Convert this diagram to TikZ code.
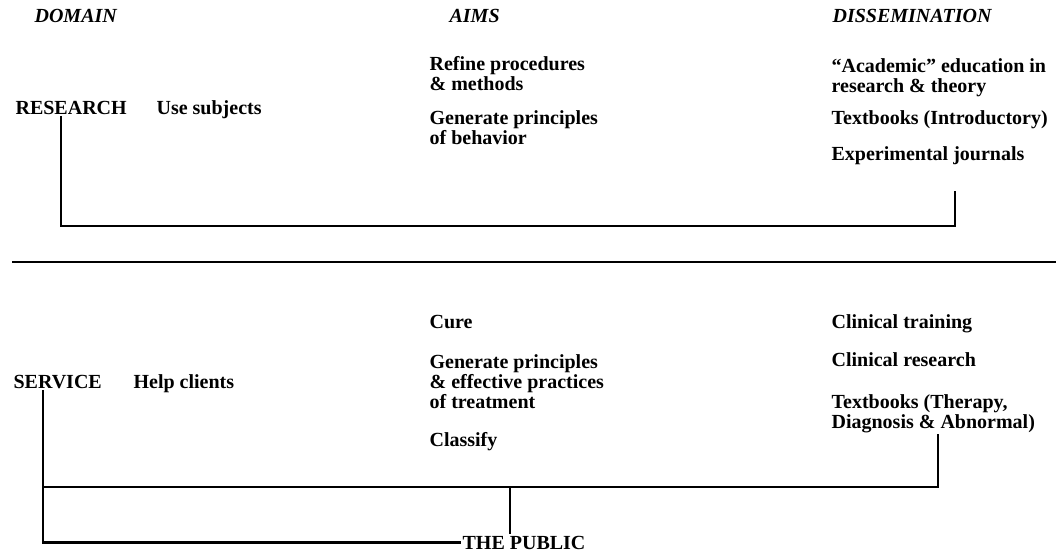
\documentclass[tikz,border=0pt]{standalone}
\usepackage{fontspec}
\setmainfont{Liberation Serif}
\usetikzlibrary{positioning}

\begin{document}
\begin{tikzpicture}[x=0.75pt,y=-0.75pt]
\tikzset{
  entry/.style={anchor=base west,inner sep=1pt,align=left,
    font=\fontsize{15pt}{15pt}\selectfont\bfseries},
  heading/.style={entry,font=\fontsize{15pt}{15pt}\selectfont\bfseries\itshape},
  bracket/.style={line width=1.6pt,line join=miter}
}
\useasboundingbox (0,0) rectangle (1056,553);
\node[heading] (n_domain) at (33,22) {DOMAIN};
\node[heading] (n_aims) at (448,22) {AIMS};
\node[heading] (n_dissem) at (831,22) {DISSEMINATION};
\node[entry] (n_research) at (14,114) {RESEARCH};
\node[entry] (n_usesubj) at (155,114) {Use subjects};
\node[entry] (n_refine) at (428,90) {Refine procedures\\\& methods};
\node[entry] (n_genbeh) at (428,144) {Generate principles\\of behavior};
\node[entry] (n_academic) at (830,92) {``Academic'' education in\\research \& theory};
\node[entry] (n_textintro) at (830,124) {Textbooks (Introductory)};
\node[entry] (n_journals) at (830,160) {Experimental journals};
\node[entry] (n_service) at (12,388) {SERVICE};
\node[entry] (n_help) at (132,388) {Help clients};
\node[entry] (n_cure) at (428,328) {Cure};
\node[entry] (n_gentreat) at (428,408) {Generate principles\\\& effective practices\\of treatment};
\node[entry] (n_classify) at (428,446) {Classify};
\node[entry] (n_cltrain) at (830,328) {Clinical training};
\node[entry] (n_clres) at (830,366) {Clinical research};
\node[entry] (n_texther) at (830,428) {Textbooks (Therapy,\\Diagnosis \& Abnormal)};
\node[entry] (n_public) at (461,549) {THE PUBLIC};
\coordinate (c_rleft) at (61,226);
\coordinate (c_rright) at (955,226);
\coordinate (c_rtop) at (955,191);
\coordinate (c_sepleft) at (12,262);
\coordinate (c_sepright) at (1056,262);
\coordinate (c_sleft) at (43,487);
\coordinate (c_sright) at (938,487);
\coordinate (c_pub) at (510,487);
\draw[bracket] (n_research.south -| c_rleft) -- (c_rleft) -- (c_rright) -- (c_rtop);
\draw[bracket] (c_sepleft) -- (c_sepright);
\draw[bracket] (n_service.south -| c_sleft) |- (n_public.west);
\draw[bracket] (c_sleft) -- (c_sright) -- (n_texther.south -| c_sright);
\draw[bracket] (c_pub) -- (c_pub |- n_public.north);
\end{tikzpicture}
\end{document}
